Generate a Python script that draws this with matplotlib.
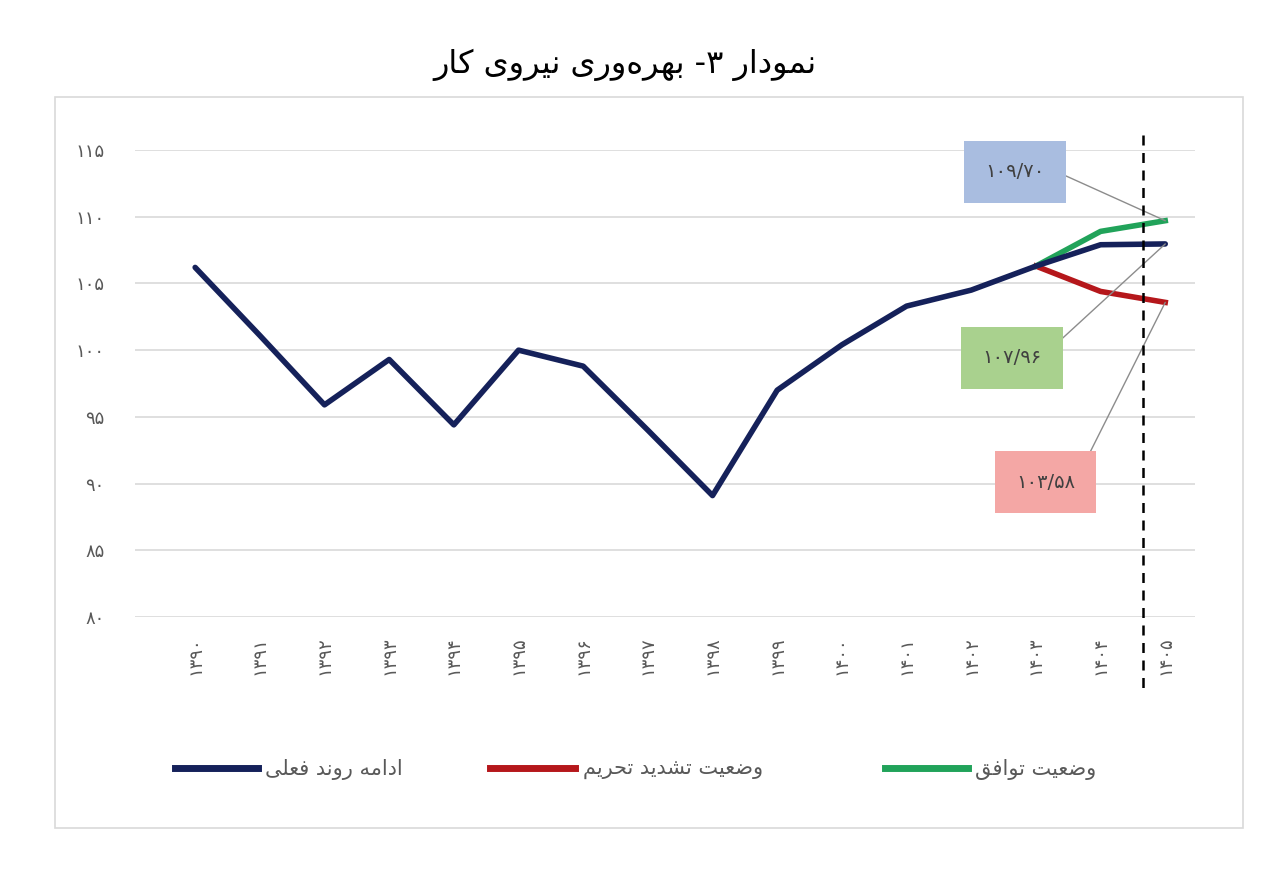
import matplotlib
matplotlib.use("Agg")
import matplotlib.pyplot as plt
from matplotlib.lines import Line2D
from matplotlib.patches import Rectangle

years = list(range(1390, 1406))
current = [106.2, 101.1, 95.9, 99.3, 94.4, 100.0, 98.8, 94.0, 89.1, 97.0, 100.4, 103.3, 104.5, 106.3, 107.9, 107.96]
sanction_years = [1403, 1404, 1405]
sanction = [106.3, 104.4, 103.58]
deal_years = [1403, 1404, 1405]
deal = [106.3, 108.9, 109.7]
yticks = [80, 85, 90, 95, 100, 105, 110, 115]
title = "نمودار ۳- بهره\u200cوری نیروی کار"
legend_labels = ["ادامه روند فعلی", "وضعیت تشدید تحریم", "وضعیت توافق"]
ann_labels = ["۱۰۹/۷۰", "۱۰۷/۹۶", "۱۰۳/۵۸"]

FORMS = {
    'ا': (0xFE8D, 0xFE8E, None, None), 'ب': (0xFE8F, 0xFE90, 0xFE91, 0xFE92),
    'ت': (0xFE95, 0xFE96, 0xFE97, 0xFE98), 'ح': (0xFEA1, 0xFEA2, 0xFEA3, 0xFEA4),
    'د': (0xFEA9, 0xFEAA, None, None), 'ر': (0xFEAD, 0xFEAE, None, None),
    'ش': (0xFEB5, 0xFEB6, 0xFEB7, 0xFEB8), 'ض': (0xFEBD, 0xFEBE, 0xFEBF, 0xFEC0),
    'ع': (0xFEC9, 0xFECA, 0xFECB, 0xFECC), 'ف': (0xFED1, 0xFED2, 0xFED3, 0xFED4),
    'ق': (0xFED5, 0xFED6, 0xFED7, 0xFED8), 'ل': (0xFEDD, 0xFEDE, 0xFEDF, 0xFEE0),
    'م': (0xFEE1, 0xFEE2, 0xFEE3, 0xFEE4), 'ن': (0xFEE5, 0xFEE6, 0xFEE7, 0xFEE8),
    'ه': (0xFEE9, 0xFEEA, 0xFEEB, 0xFEEC), 'و': (0xFEED, 0xFEEE, None, None),
    'ی': (0xFBFC, 0xFBFD, 0xFBFE, 0xFBFF), 'ک': (0xFB8E, 0xFB8F, 0xFB90, 0xFB91),
}

def dual(c):
    return c in FORMS and FORMS[c][2] is not None

def shape(s):
    out = []
    for i, c in enumerate(s):
        if c not in FORMS:
            if c != '\u200c':
                out.append(c)
            continue
        prev = s[i-1] if i > 0 else ''
        nxt = s[i+1] if i + 1 < len(s) else ''
        jp = dual(prev)
        jn = dual(c) and nxt in FORMS
        iso, fin, ini, med = FORMS[c]
        if jp and jn:
            f = med
        elif jp:
            f = fin
        elif jn:
            f = ini
        else:
            f = iso
        out.append(chr(f))
    return ''.join(out[::-1])

def fa(n):
    return str(n).translate(str.maketrans("0123456789", "۰۱۲۳۴۵۶۷۸۹"))

plt.rcParams['font.family'] = ['DejaVu Sans']
W, H = 1280, 886
fig = plt.figure(figsize=(12.8, 8.86), dpi=100)
fig.patches.append(Rectangle((55/W, 1-828/H), (1243-55)/W, (828-97)/H, transform=fig.transFigure,
                             fill=False, edgecolor='#d9d9d9', lw=1.2))
ax = fig.add_axes([135/W, 1-617/H, (1195-135)/W, (617-150)/H])
navy, red, green = '#15215a', '#b5171b', '#21a35a'
ax.plot(years, current, color=navy, lw=4, solid_capstyle='round', zorder=3)
ax.plot(sanction_years, sanction, color=red, lw=4, zorder=2)
ax.plot(deal_years, deal, color=green, lw=4, zorder=2)
ax.set_ylim(80, 115)
ax.set_xlim(1389.07, 1405.46)
ax.set_yticks(yticks)
ax.set_yticklabels([fa(v) for v in yticks], color='#595959', fontsize=13)
ax.set_xticks(years)
ax.set_xticklabels([fa(y) for y in years], rotation=90, color='#595959', fontsize=13)
ax.tick_params(axis='y', length=0, pad=22)
ax.tick_params(axis='x', length=0, pad=14)
ax.grid(axis='y', color='#d9d9d9', lw=1.2)
ax.set_axisbelow(True)
for s in ax.spines.values():
    s.set_visible(False)

fig.text(625/W, 1-65/H, shape(title), ha='center', va='center', fontsize=23)

fig.add_artist(Line2D([1143/W, 1143/W], [1-135/H, 1-690/H], color='black', lw=1.8, ls=(0, (4, 3))))

anns = [
    (ann_labels[0], (1405, deal[-1]), (0.830, 0.953), '#a9bde0', (1, 0.8)),
    (ann_labels[1], (1405, current[-1]), (0.827, 0.555), '#a9d18e', (1, 0.5)),
    (ann_labels[2], (1405, sanction[-1]), (0.859, 0.289), '#f4a7a5', (1, 0.5)),
]
for txt, xy, xyt, fc, rp in anns:
    ax.annotate(txt, xy=xy, xytext=xyt, textcoords='axes fraction', ha='center', va='center',
                fontsize=14, color='#404040', zorder=5,
                bbox=dict(boxstyle='square,pad=1.1', fc=fc, ec='none'),
                arrowprops=dict(arrowstyle='-', color='#8c8c8c', lw=1, shrinkA=0, shrinkB=0, relpos=rp))

leg = [(175, 258, 265, navy), (490, 575, 583, red), (885, 968, 975, green)]
for (x0, x1, xt, c), lab in zip(leg, legend_labels):
    fig.add_artist(Line2D([x0/W, x1/W], [1-768/H, 1-768/H], color=c, lw=5))
    fig.text(xt/W, 1-770/H, shape(lab), ha='left', va='center', fontsize=15, color='#595959')

fig.savefig('out.png', dpi=100)
